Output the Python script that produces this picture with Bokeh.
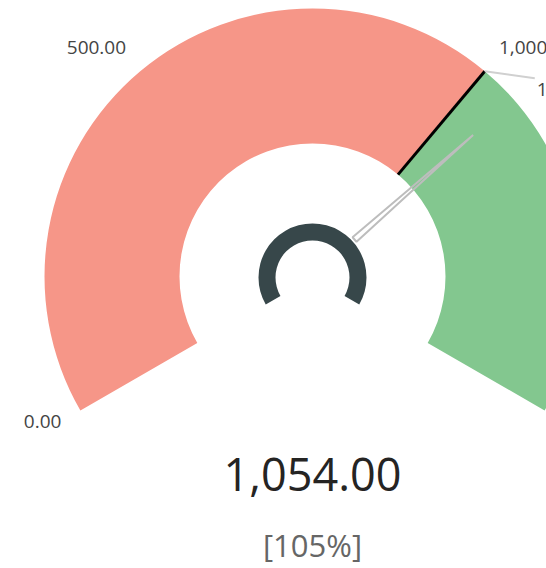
import math
from bokeh.plotting import figure
from bokeh.models import Range1d, ColumnDataSource
from bokeh.core.properties import value
from bokeh.embed import file_html
from bokeh.resources import INLINE

# ---- data ----
gauge_min = 0
gauge_max = 1500
gauge_value = 1054
target_value = 1000
band_starts = [0, 1000]
band_ends = [1000, 1500]
band_colors = ["#F69688", "#83C78F"]
tick_values = [0, 500, 1000, 1500]
tick_labels = ["0.00", "500.00", "1,000.00", "1,500.00"]
value_label = "1,054.00"
percent_label = "[105%]"
target_label = "1,000.00"

# ---- geometry (px-like data units) ----
W, H = 546, 568
CX, CY = 312, 568 - 276
R_OUT, R_IN = 268, 133
START_DEG, SWEEP_DEG = 210.0, 240.0
FONT = "Open Sans"


def ang(v):
    return math.radians(START_DEG - (v - gauge_min) / (gauge_max - gauge_min) * SWEEP_DEG)


p = figure(width=W, height=H, output_backend="svg", toolbar_location=None,
           x_range=Range1d(0, W), y_range=Range1d(0, H),
           min_border=0)
p.axis.visible = False
p.grid.visible = False
p.outline_line_color = None
p.background_fill_color = "white"
p.border_fill_color = "white"

# bands
src = ColumnDataSource(dict(
    x=[CX] * len(band_starts), y=[CY] * len(band_starts),
    start=[ang(b) for b in band_ends], end=[ang(a) for a in band_starts],
    color=band_colors))
p.annular_wedge(x="x", y="y", inner_radius=R_IN, outer_radius=R_OUT,
                start_angle="start", end_angle="end", direction="anticlock",
                fill_color="color", line_color=None, source=src)

# target line
ta = ang(target_value)
p.segment(x0=[CX + R_IN * math.cos(ta)], y0=[CY + R_IN * math.sin(ta)],
          x1=[CX + R_OUT * math.cos(ta)], y1=[CY + R_OUT * math.sin(ta)],
          line_color="black", line_width=3)

# target label with leader
tx0, ty0 = CX + R_OUT * math.cos(ta), CY + R_OUT * math.sin(ta)
p.segment(x0=[tx0], y0=[ty0], x1=[tx0 + 50], y1=[ty0 - 7],
          line_color="#d0d0d0", line_width=2)
p.text(x=[tx0 + 52], y=[ty0 - 18], text=[target_label], text_font=value(FONT),
       text_font_size="19px", text_color="#444444",
       text_align="left", text_baseline="middle")

# tick labels
for v, lab in zip(tick_values, tick_labels):
    a = ang(v)
    r = 290
    x = CX + r * math.cos(a)
    y = CY + r * math.sin(a)
    align = "right" if math.cos(a) < 0 else "left"
    base = "bottom" if math.sin(a) > 0.3 else "middle"
    p.text(x=[x], y=[y], text=[lab], text_font=value(FONT),
           text_font_size="19px", text_color="#444444",
           text_align=align, text_baseline=base)

# hub ring
p.annular_wedge(x=[CX], y=[CY - 1], inner_radius=37, outer_radius=54,
                start_angle=[ang(gauge_max)], end_angle=[ang(gauge_min)],
                direction="anticlock", fill_color="#37474A", line_color=None)

# needle
na = ang(gauge_value)
r0, r1, hw = 56, 214, 3.0
px, py = -math.sin(na), math.cos(na)
bx, by = CX + r0 * math.cos(na), CY + r0 * math.sin(na)
tipx, tipy = CX + r1 * math.cos(na), CY + r1 * math.sin(na)
p.patch(x=[bx + hw * px, tipx, bx - hw * px], y=[by + hw * py, tipy, by - hw * py],
        fill_color="white", fill_alpha=0.0, line_color="#BDBDBD", line_width=2)

# value labels
p.text(x=[CX], y=[568 - 474], text=[value_label], text_font=value(FONT),
       text_font_size="45px", text_color="#252423",
       text_align="center", text_baseline="alphabetic")
p.text(x=[CX], y=[568 - 544], text=[percent_label], text_font=value(FONT),
       text_font_size="31px", text_color="#666666",
       text_align="center", text_baseline="alphabetic")

open("out.html", "w").write(file_html(p, INLINE))
